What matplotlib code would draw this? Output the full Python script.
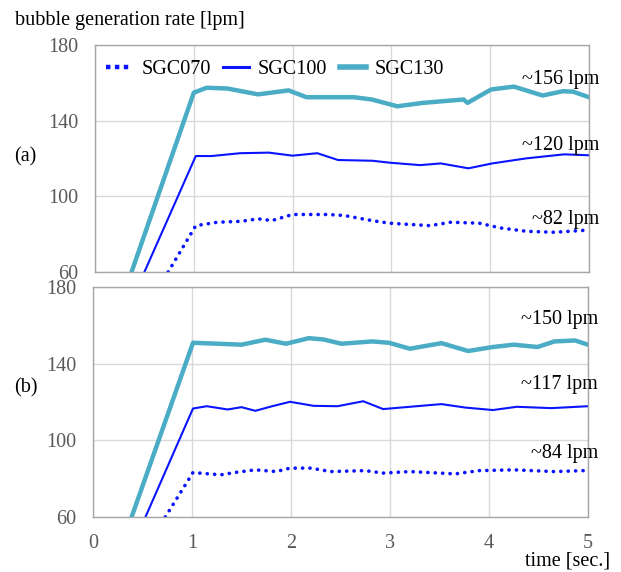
import matplotlib
matplotlib.use("Agg")
import matplotlib.pyplot as plt
from matplotlib.lines import Line2D

plt.rcParams['font.family'] = ['Liberation Serif', 'DejaVu Serif']

# ---- data ----
t_a130 = [0.37, 1.0, 1.13, 1.34, 1.65, 1.96, 2.14, 2.62, 2.8, 3.06, 3.32, 3.73, 3.77, 4.01, 4.24, 4.53, 4.74, 4.84, 5.0]
v_a130 = [60, 154.8, 157.4, 157.0, 153.9, 156.0, 152.4, 152.4, 151.2, 147.6, 149.4, 151.2, 149.4, 156.5, 158.0, 153.3, 155.6, 155.3, 152.4]
t_a100 = [0.5, 1.02, 1.18, 1.47, 1.76, 2.0, 2.25, 2.46, 2.81, 2.98, 3.29, 3.5, 3.78, 4.02, 4.37, 4.75, 5.0]
v_a100 = [60, 121.3, 121.3, 122.8, 123.1, 121.5, 122.8, 119.2, 118.8, 117.8, 116.5, 117.4, 114.8, 117.4, 120.1, 122.2, 121.7]
t_a070 = [0.74, 1.02, 1.24, 1.48, 1.65, 1.79, 2.0, 2.35, 2.52, 2.8, 2.98, 3.39, 3.6, 3.89, 4.1, 4.37, 4.65, 5.0]
v_a070 = [60, 84.5, 86.3, 86.8, 88.1, 87.2, 90.4, 90.4, 89.9, 87.2, 85.8, 84.5, 86.3, 85.8, 83.3, 81.5, 81.0, 82.2]

t_b130 = [0.39, 1.01, 1.26, 1.5, 1.74, 1.95, 2.18, 2.33, 2.51, 2.82, 2.99, 3.2, 3.52, 3.79, 4.04, 4.25, 4.49, 4.66, 4.87, 5.0]
v_b130 = [60, 150.9, 150.4, 149.9, 152.5, 150.4, 153.3, 152.6, 150.4, 151.6, 150.9, 147.8, 150.7, 146.6, 148.7, 149.9, 148.7, 151.6, 152.1, 149.9]
t_b100 = [0.53, 1.01, 1.15, 1.36, 1.5, 1.64, 1.81, 1.99, 2.23, 2.47, 2.73, 2.93, 3.2, 3.52, 3.76, 4.04, 4.28, 4.63, 5.0]
v_b100 = [60, 116.6, 117.8, 116.1, 117.3, 115.4, 117.8, 120.1, 118.0, 117.8, 120.4, 116.3, 117.5, 118.9, 117.1, 115.8, 117.5, 116.8, 117.8]
t_b070 = [0.73, 1.01, 1.29, 1.43, 1.64, 1.85, 1.99, 2.2, 2.4, 2.75, 2.93, 3.2, 3.66, 3.9, 4.25, 4.66, 4.96]
v_b070 = [60, 83.2, 82.0, 83.2, 84.6, 83.7, 85.5, 85.5, 83.7, 84.2, 82.9, 83.7, 82.5, 84.2, 84.6, 83.7, 84.2]

series_names = ["SGC070", "SGC100", "SGC130"]
labels_a = [("~156 lpm", 162.0), ("~120 lpm", 126.8), ("~82 lpm", 88.0)]
labels_b = [("~150 lpm", 163.0), ("~117 lpm", 129.0), ("~84 lpm", 93.0)]
x_ticks = [0, 1, 2, 3, 4, 5]
y_ticks = [60, 100, 140, 180]

C_BLUE = "#0a14ff"
C_CYAN = "#4bacc6"
GRID = "#d9d9d9"
FRAME = "#a6a6a6"
TICKC = "#595959"
FS = 14.5

W, H = 621, 572
fig = plt.figure(figsize=(W / 100, H / 100), dpi=100)

def px_axes(l, t, r, b):
    return fig.add_axes([l / W, 1 - b / H, (r - l) / W, (b - t) / H])

ax1 = px_axes(95, 45, 589, 272)
ax2 = px_axes(93, 287, 588, 517)

def style(ax, show_x):
    ax.set_xlim(0, 5)
    ax.set_ylim(60, 180)
    ax.set_xticks(x_ticks)
    ax.set_yticks(y_ticks)
    ax.grid(True, color=GRID, lw=1)
    ax.set_axisbelow(True)
    for s in ax.spines.values():
        s.set_color(FRAME)
        s.set_linewidth(1)
    ax.tick_params(length=0, colors=TICKC, labelsize=FS)
    ax.tick_params(axis='y', pad=12)
    if not show_x:
        ax.tick_params(axis='x', labelbottom=False)
    else:
        ax.tick_params(axis='x', pad=12)

style(ax1, False)
style(ax2, True)

def draw(ax, t70, v70, t100, v100, t130, v130):
    l70, = ax.plot(t70, v70, color=C_BLUE, lw=2.6, ls=(0, (0.05, 2.0)), dash_capstyle='round')
    l100, = ax.plot(t100, v100, color=C_BLUE, lw=1.5)
    l130, = ax.plot(t130, v130, color=C_CYAN, lw=3.2)
    return [l70, l100, l130]

draw(ax1, t_a070, v_a070, t_a100, v_a100, t_a130, v_a130)
draw(ax2, t_b070, v_b070, t_b100, v_b100, t_b130, v_b130)

# legend handles: square-dotted line for SGC070
lh = [Line2D([], [], color=C_BLUE, lw=3.2, ls=(0, (1, 1)), dash_capstyle='butt'),
      Line2D([], [], color=C_BLUE, lw=2.2),
      Line2D([], [], color=C_CYAN, lw=4.0)]
ax1.legend(lh, series_names, loc='upper left', ncol=3, frameon=False, fontsize=FS,
           handlelength=1.3, columnspacing=0.6, handletextpad=0.45,
           bbox_to_anchor=(-0.008, 1.0), borderaxespad=0.35)

for ax, labs in ((ax1, labels_a), (ax2, labels_b)):
    for txt, y in labs:
        ax.text(5.1, y, txt, ha='right', va='center', fontsize=FS, clip_on=False)

fig.text(15 / W, 1 - 20 / H, "bubble generation rate [lpm]", fontsize=FS, va='center', ha='left')
fig.text(14 / W, 1 - 157 / H, "(a)", fontsize=FS, va='center', ha='left')
fig.text(14 / W, 1 - 388 / H, "(b)", fontsize=FS, va='center', ha='left')
fig.text(610 / W, 1 - 561 / H, "time [sec.]", fontsize=FS, va='center', ha='right')

fig.savefig("out.png", dpi=100)
